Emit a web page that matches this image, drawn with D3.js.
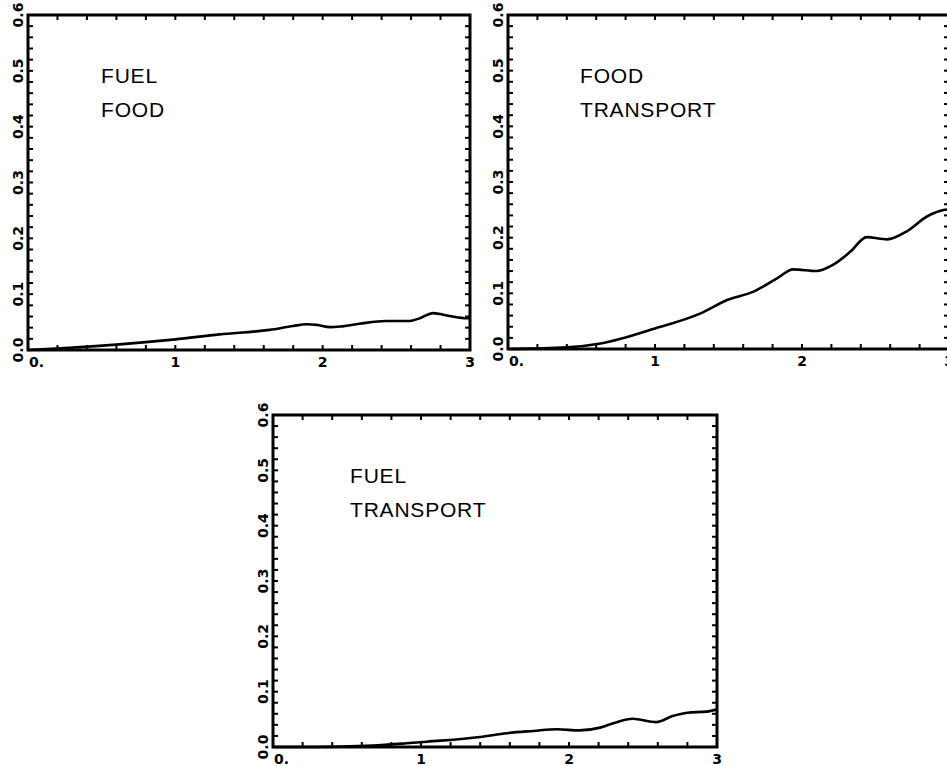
<!DOCTYPE html>
<html>
<head>
<meta charset="utf-8">
<script src="https://cdn.jsdelivr.net/npm/d3@7"></script>
<style>
  html, body { margin: 0; padding: 0; background: #fff; }
  svg { display: block; }
</style>
</head>
<body>
<svg id="chart" width="947" height="766"></svg>
<script>
// Tick values and labels shared by all three panels
const xTickValues = [0, 1, 2, 3];
const xTickLabels = ["0.", "1", "2", "3"];
const yTickValues = [0, 0.1, 0.2, 0.3, 0.4, 0.5, 0.6];
const yTickLabels = ["0.0", "0.1", "0.2", "0.3", "0.4", "0.5", "0.6"];

// FUEL / FOOD
const fuelFoodX = [0, 0.22, 0.62, 1.0, 1.30, 1.64, 1.80, 1.89, 1.96, 2.05, 2.12, 2.25, 2.43, 2.59, 2.66, 2.75, 2.86, 2.98, 3.0];
const fuelFoodY = [0, 0.003, 0.010, 0.019, 0.028, 0.036, 0.043, 0.046, 0.045, 0.041, 0.042, 0.047, 0.052, 0.052, 0.057, 0.066, 0.061, 0.057, 0.057];

// FOOD / TRANSPORT
const foodTransportX = [0, 0.40, 0.63, 1.0, 1.31, 1.49, 1.67, 1.83, 1.94, 2.10, 2.21, 2.33, 2.44, 2.58, 2.71, 2.85, 2.97, 3.0];
const foodTransportY = [0, 0.003, 0.010, 0.037, 0.064, 0.088, 0.103, 0.127, 0.143, 0.140, 0.151, 0.175, 0.201, 0.197, 0.211, 0.238, 0.250, 0.251];

// FUEL / TRANSPORT
const fuelTransportX = [0, 0.30, 0.63, 0.90, 1.04, 1.40, 1.58, 1.76, 1.92, 2.07, 2.21, 2.30, 2.43, 2.59, 2.70, 2.80, 2.93, 3.0];
const fuelTransportY = [0, 0.0, 0.002, 0.0067, 0.0096, 0.018, 0.025, 0.029, 0.032, 0.030, 0.035, 0.043, 0.051, 0.045, 0.056, 0.062, 0.064, 0.068];

const panels = [
  { left: 28,  right: 470, top: 15,  bottom: 350, names: ["FUEL", "FOOD"],      xs: fuelFoodX,      ys: fuelFoodY,      tx: 101, ty: 83 },
  { left: 508, right: 949, top: 15,  bottom: 349, names: ["FOOD", "TRANSPORT"], xs: foodTransportX, ys: foodTransportY, tx: 580, ty: 83 },
  { left: 273, right: 717, top: 415, bottom: 747, names: ["FUEL", "TRANSPORT"], xs: fuelTransportX, ys: fuelTransportY, tx: 350, ty: 483 }
];

const svg = d3.select("#chart");
const tickLen = 5;
const tickFont = "'DejaVu Sans', Verdana, sans-serif";
const nameFont = "'Liberation Sans', Arial, Helvetica, sans-serif";

panels.forEach(p => {
  const x = d3.scaleLinear().domain([0, 3]).range([p.left, p.right]);
  const y = d3.scaleLinear().domain([0, 0.6]).range([p.bottom, p.top]);
  const g = svg.append("g");

  // minor + major ticks on all four sides, pointing inward
  const xMinor = d3.range(0, 3.0001, 0.2).map(v => +v.toFixed(2));
  const yMinor = d3.range(0, 0.6001, 0.02).map(v => +v.toFixed(3));

  g.selectAll(".xtb").data(xMinor).join("line")
    .attr("x1", d => x(d)).attr("x2", d => x(d))
    .attr("y1", p.bottom).attr("y2", p.bottom - tickLen)
    .attr("stroke", "#000").attr("stroke-width", 2);
  g.selectAll(".xtt").data(xMinor).join("line")
    .attr("x1", d => x(d)).attr("x2", d => x(d))
    .attr("y1", p.top).attr("y2", p.top + tickLen)
    .attr("stroke", "#000").attr("stroke-width", 2);
  g.selectAll(".ytl").data(yMinor).join("line")
    .attr("x1", p.left).attr("x2", p.left + tickLen)
    .attr("y1", d => y(d)).attr("y2", d => y(d))
    .attr("stroke", "#000").attr("stroke-width", 2);
  g.selectAll(".ytr").data(yMinor).join("line")
    .attr("x1", p.right).attr("x2", p.right - tickLen)
    .attr("y1", d => y(d)).attr("y2", d => y(d))
    .attr("stroke", "#000").attr("stroke-width", 2);

  // frame
  g.append("rect")
    .attr("x", p.left).attr("y", p.top)
    .attr("width", p.right - p.left).attr("height", p.bottom - p.top)
    .attr("fill", "none").attr("stroke", "#000").attr("stroke-width", 3);

  // x tick labels
  g.selectAll(".xl").data(xTickValues).join("text")
    .attr("x", (d, i) => i === 0 ? x(d) + 1 : x(d))
    .attr("y", p.bottom + 17)
    .attr("text-anchor", (d, i) => i === 0 ? "start" : "middle")
    .attr("font-family", tickFont).attr("font-weight", "bold").attr("font-size", 14)
    .text((d, i) => xTickLabels[i]);

  // y tick labels, rotated
  g.selectAll(".yl").data(yTickValues).join("text")
    .attr("transform", d => `translate(${p.left - 10},${y(d)}) rotate(-90)`)
    .attr("text-anchor", "middle")
    .attr("dy", "0.36em")
    .attr("font-family", tickFont).attr("font-weight", "bold").attr("font-size", 14)
    .text((d, i) => yTickLabels[i]);

  // curve
  const pts = p.xs.map((v, i) => [v, p.ys[i]]);
  const line = d3.line().x(d => x(d[0])).y(d => y(d[1])).curve(d3.curveMonotoneX);
  g.append("path").datum(pts)
    .attr("d", line)
    .attr("fill", "none").attr("stroke", "#000").attr("stroke-width", 2.6)
    .attr("stroke-linejoin", "round");

  // panel names
  p.names.forEach((n, i) => {
    g.append("text")
      .attr("x", p.tx).attr("y", p.ty + i * 34)
      .attr("font-family", nameFont).attr("font-size", 21)
      .attr("letter-spacing", "0.8px")
      .attr("fill", "#000")
      .text(n);
  });
});
</script>
</body>
</html>
